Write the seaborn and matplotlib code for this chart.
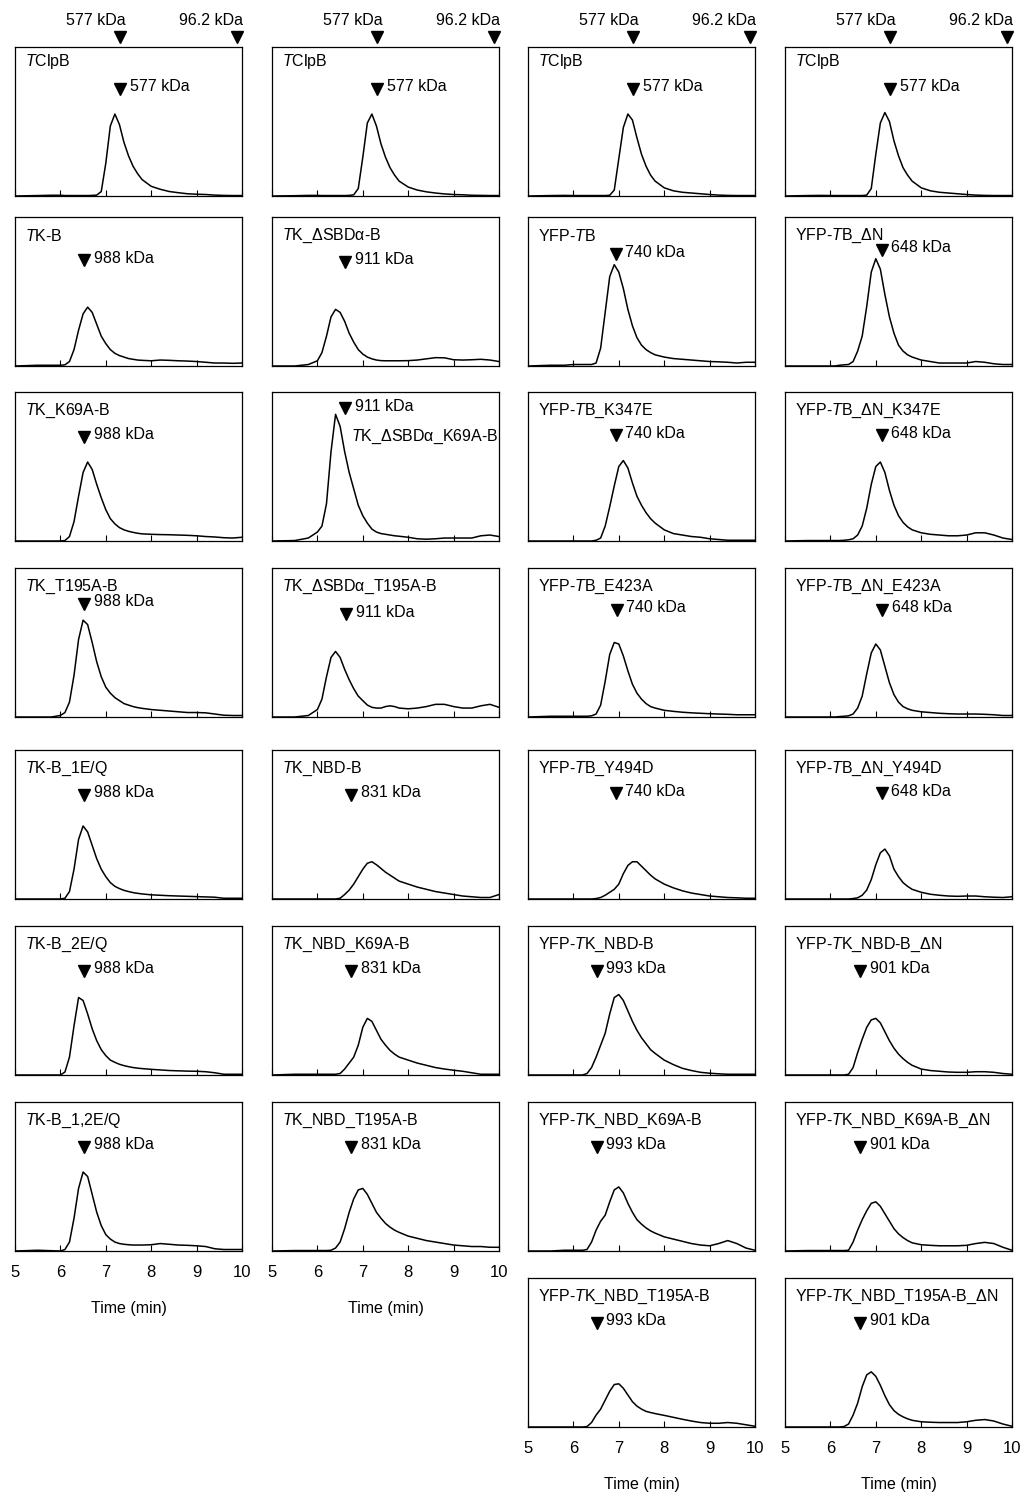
import numpy as np
import pandas as pd
import matplotlib.pyplot as plt
import seaborn as sns

# elution time grid (min), shared by all traces
time = [5.0, 5.5, 5.8, 6.0, 6.1, 6.2, 6.3, 6.4, 6.5, 6.6, 6.7, 6.8, 6.9, 7.0, 7.1, 7.2, 7.3,
        7.4, 7.5, 7.6, 7.7, 7.8, 8.0, 8.2, 8.4, 8.6, 8.8, 9.0, 9.2, 9.4, 9.6, 9.8, 10.0]

# absorbance traces, scaled to panel height
tclpb_1 = [0.0, 0.003, 0.005, 0.005, 0.003, 0.003, 0.003, 0.003, 0.003, 0.003, 0.004, 0.006, 0.03, 0.22, 0.47, 0.55, 0.48,
           0.36, 0.27, 0.2, 0.15, 0.11, 0.065, 0.045, 0.03, 0.022, 0.015, 0.012, 0.01, 0.006, 0.004, 0.003, 0.003]
tclpb_2 = [0.0, 0.002, 0.004, 0.004, 0.003, 0.003, 0.003, 0.003, 0.003, 0.003, 0.004, 0.008, 0.05, 0.26, 0.49, 0.55, 0.47,
           0.35, 0.26, 0.19, 0.14, 0.1, 0.06, 0.04, 0.028, 0.02, 0.014, 0.01, 0.008, 0.005, 0.004, 0.003, 0.003]
tclpb_3 = [0.0, 0.003, 0.004, 0.003, 0.003, 0.003, 0.003, 0.003, 0.003, 0.003, 0.003, 0.005, 0.04, 0.25, 0.46, 0.55, 0.51,
           0.39, 0.28, 0.2, 0.14, 0.1, 0.055, 0.035, 0.025, 0.02, 0.015, 0.01, 0.006, 0.004, 0.003, 0.003, 0.003]
tclpb_4 = [0.0, 0.003, 0.004, 0.003, 0.003, 0.003, 0.003, 0.003, 0.003, 0.003, 0.003, 0.006, 0.05, 0.28, 0.49, 0.56, 0.5,
           0.37, 0.27, 0.19, 0.14, 0.1, 0.055, 0.035, 0.025, 0.02, 0.015, 0.01, 0.006, 0.004, 0.003, 0.003, 0.003]

tk_b = [0.0, 0.005, 0.005, 0.005, 0.008, 0.03, 0.11, 0.24, 0.35, 0.395, 0.36, 0.28, 0.2, 0.15, 0.11, 0.085, 0.07,
        0.06, 0.05, 0.045, 0.04, 0.038, 0.035, 0.04, 0.038, 0.035, 0.033, 0.03, 0.025, 0.02, 0.02, 0.018, 0.02]
tk_k69a = [0.0, 0.0, 0.0, 0.0, 0.003, 0.03, 0.13, 0.3, 0.46, 0.53, 0.48, 0.38, 0.29, 0.21, 0.15, 0.115, 0.09,
           0.075, 0.065, 0.058, 0.052, 0.048, 0.045, 0.043, 0.042, 0.04, 0.038, 0.035, 0.03, 0.027, 0.022, 0.02, 0.025]
tk_t195a = [0.0, 0.0, 0.0, 0.01, 0.03, 0.1, 0.28, 0.52, 0.65, 0.62, 0.5, 0.37, 0.27, 0.2, 0.16, 0.13, 0.11,
            0.09, 0.08, 0.07, 0.063, 0.058, 0.05, 0.045, 0.04, 0.035, 0.03, 0.03, 0.028, 0.02, 0.012, 0.01, 0.01]
tk_b_1eq = [0.0, 0.0, 0.0, 0.0, 0.005, 0.05, 0.2, 0.4, 0.49, 0.45, 0.36, 0.27, 0.2, 0.15, 0.11, 0.085, 0.07,
            0.058, 0.05, 0.043, 0.038, 0.034, 0.028, 0.025, 0.022, 0.02, 0.018, 0.016, 0.014, 0.012, 0.005, 0.005, 0.005]
tk_b_2eq = [0.0, 0.0, 0.0, 0.0, 0.02, 0.12, 0.33, 0.52, 0.5, 0.41, 0.31, 0.23, 0.17, 0.13, 0.1, 0.085, 0.072,
            0.063, 0.056, 0.05, 0.046, 0.043, 0.038, 0.034, 0.03, 0.028, 0.026, 0.025, 0.022, 0.015, 0.005, 0.005, 0.005]
tk_b_12eq = [0.0, 0.005, 0.002, 0.0, 0.01, 0.06, 0.22, 0.42, 0.53, 0.5, 0.38, 0.26, 0.17, 0.11, 0.08, 0.06, 0.05,
             0.045, 0.042, 0.04, 0.04, 0.04, 0.042, 0.05, 0.045, 0.04, 0.038, 0.035, 0.03, 0.015, 0.01, 0.01, 0.01]

tk_dsbd = [0.0, 0.0, 0.01, 0.035, 0.09, 0.2, 0.33, 0.38, 0.36, 0.3, 0.22, 0.16, 0.11, 0.08, 0.06, 0.048, 0.04,
           0.036, 0.035, 0.035, 0.035, 0.035, 0.036, 0.04, 0.048, 0.056, 0.055, 0.042, 0.04, 0.042, 0.045, 0.04, 0.03]
tk_dsbd_k69a = [0.0, 0.003, 0.02, 0.06, 0.1, 0.25, 0.6, 0.85, 0.77, 0.6, 0.46, 0.35, 0.24, 0.17, 0.12, 0.08, 0.06,
                0.05, 0.045, 0.04, 0.035, 0.032, 0.025, 0.015, 0.012, 0.015, 0.02, 0.02, 0.02, 0.02, 0.035, 0.04, 0.03]
tk_dsbd_t195a = [0.0, 0.0, 0.01, 0.05, 0.12, 0.27, 0.4, 0.44, 0.4, 0.32, 0.25, 0.19, 0.14, 0.11, 0.08, 0.065, 0.06,
                 0.06, 0.07, 0.075, 0.07, 0.06, 0.055, 0.06, 0.07, 0.085, 0.085, 0.07, 0.06, 0.06, 0.075, 0.085, 0.065]
tk_nbd = [0.0, 0.0, 0.0, 0.0, 0.0, 0.0, 0.0, 0.0, 0.005, 0.03, 0.06, 0.1, 0.15, 0.2, 0.24, 0.25, 0.23,
          0.205, 0.18, 0.16, 0.14, 0.12, 0.1, 0.08, 0.065, 0.05, 0.04, 0.03, 0.02, 0.015, 0.01, 0.01, 0.03]
tk_nbd_k69a = [0.0, 0.005, 0.005, 0.005, 0.005, 0.005, 0.005, 0.005, 0.01, 0.04, 0.08, 0.12, 0.2, 0.32, 0.38, 0.36, 0.3,
               0.24, 0.2, 0.165, 0.14, 0.12, 0.1, 0.08, 0.065, 0.05, 0.04, 0.032, 0.025, 0.015, 0.005, 0.005, 0.005]
tk_nbd_t195a = [0.0, 0.003, 0.003, 0.003, 0.003, 0.003, 0.005, 0.02, 0.06, 0.15, 0.26, 0.35, 0.41, 0.42, 0.38, 0.32, 0.26,
                0.22, 0.185, 0.16, 0.14, 0.125, 0.1, 0.085, 0.07, 0.06, 0.05, 0.04, 0.035, 0.03, 0.03, 0.025, 0.025]

yfp_tb = [0.0, 0.005, 0.005, 0.01, 0.01, 0.01, 0.01, 0.01, 0.02, 0.12, 0.36, 0.6, 0.68, 0.63, 0.52, 0.38, 0.27,
          0.19, 0.14, 0.11, 0.09, 0.075, 0.06, 0.05, 0.045, 0.04, 0.035, 0.03, 0.028, 0.025, 0.02, 0.025, 0.025]
yfp_tb_k347e = [0.0, 0.0, 0.0, 0.0, 0.0, 0.0, 0.0, 0.0, 0.005, 0.02, 0.1, 0.23, 0.37, 0.5, 0.54, 0.49, 0.39,
                0.3, 0.24, 0.19, 0.15, 0.12, 0.075, 0.05, 0.04, 0.03, 0.025, 0.015, 0.01, 0.005, 0.005, 0.005, 0.005]
yfp_tb_e423a = [0.0, 0.005, 0.005, 0.005, 0.005, 0.005, 0.005, 0.008, 0.02, 0.08, 0.24, 0.42, 0.5, 0.49, 0.41, 0.31, 0.22,
                0.16, 0.12, 0.09, 0.07, 0.06, 0.045, 0.038, 0.032, 0.028, 0.025, 0.022, 0.02, 0.018, 0.015, 0.015, 0.015]
yfp_tb_y494d = [0.0, 0.0, 0.0, 0.0, 0.0, 0.0, 0.0, 0.0, 0.003, 0.01, 0.025, 0.045, 0.065, 0.1, 0.17, 0.225, 0.25,
                0.25, 0.22, 0.19, 0.16, 0.135, 0.1, 0.075, 0.055, 0.04, 0.03, 0.02, 0.015, 0.01, 0.008, 0.005, 0.005]
yfp_tk_nbd = [0.0, 0.0, 0.0, 0.0, 0.0, 0.0, 0.01, 0.05, 0.12, 0.2, 0.28, 0.41, 0.52, 0.54, 0.5, 0.43, 0.36,
              0.3, 0.25, 0.21, 0.17, 0.145, 0.1, 0.07, 0.045, 0.03, 0.018, 0.012, 0.008, 0.005, 0.005, 0.005, 0.005]
yfp_tk_nbd_k69a = [0.0, 0.0, 0.005, 0.005, 0.005, 0.005, 0.01, 0.06, 0.14, 0.2, 0.24, 0.33, 0.41, 0.43, 0.39, 0.32, 0.26,
                   0.21, 0.18, 0.155, 0.135, 0.12, 0.095, 0.08, 0.065, 0.05, 0.04, 0.035, 0.05, 0.07, 0.05, 0.02, 0.005]
yfp_tk_nbd_t195a = [0.0, 0.0, 0.0, 0.0, 0.0, 0.0, 0.003, 0.03, 0.08, 0.12, 0.18, 0.24, 0.285, 0.29, 0.26, 0.215, 0.17,
                    0.14, 0.12, 0.105, 0.097, 0.09, 0.078, 0.065, 0.052, 0.04, 0.03, 0.025, 0.025, 0.03, 0.025, 0.015, 0.005]

yfp_tb_dn = [0.0, 0.0, 0.0, 0.0, 0.0, 0.005, 0.008, 0.01, 0.03, 0.1, 0.2, 0.4, 0.63, 0.72, 0.65, 0.48, 0.33,
             0.22, 0.14, 0.1, 0.075, 0.06, 0.04, 0.03, 0.02, 0.02, 0.02, 0.02, 0.03, 0.025, 0.015, 0.01, 0.01]
yfp_tb_dn_k347e = [0.0, 0.003, 0.003, 0.003, 0.003, 0.003, 0.005, 0.008, 0.015, 0.04, 0.1, 0.22, 0.38, 0.5, 0.53, 0.46, 0.34,
                   0.24, 0.17, 0.125, 0.095, 0.075, 0.055, 0.045, 0.04, 0.035, 0.035, 0.04, 0.055, 0.055, 0.04, 0.02, 0.01]
yfp_tb_dn_e423a = [0.0, 0.0, 0.0, 0.0, 0.0, 0.003, 0.005, 0.008, 0.02, 0.06, 0.14, 0.29, 0.43, 0.49, 0.45, 0.34, 0.23,
                   0.15, 0.1, 0.07, 0.055, 0.045, 0.035, 0.03, 0.025, 0.022, 0.02, 0.02, 0.02, 0.018, 0.015, 0.01, 0.01]
yfp_tb_dn_y494d = [0.0, 0.0, 0.0, 0.0, 0.0, 0.0, 0.0, 0.0, 0.003, 0.008, 0.025, 0.06, 0.13, 0.23, 0.31, 0.335, 0.29,
                   0.2, 0.15, 0.11, 0.085, 0.065, 0.045, 0.032, 0.025, 0.02, 0.018, 0.02, 0.02, 0.015, 0.012, 0.01, 0.015]
yfp_tk_nbd_dn = [0.0, 0.0, 0.0, 0.0, 0.0, 0.0, 0.0, 0.005, 0.05, 0.15, 0.24, 0.32, 0.37, 0.38, 0.35, 0.29, 0.23,
                 0.18, 0.14, 0.11, 0.085, 0.065, 0.04, 0.03, 0.025, 0.02, 0.018, 0.018, 0.022, 0.022, 0.018, 0.01, 0.005]
yfp_tk_nbd_k69a_dn = [0.0, 0.003, 0.003, 0.003, 0.003, 0.003, 0.003, 0.005, 0.06, 0.14, 0.21, 0.27, 0.32, 0.33, 0.3, 0.25, 0.2,
                      0.15, 0.115, 0.09, 0.07, 0.055, 0.042, 0.038, 0.035, 0.035, 0.035, 0.038, 0.05, 0.058, 0.05, 0.025, 0.005]
yfp_tk_nbd_t195a_dn = [0.0, 0.0, 0.0, 0.0, 0.0, 0.0, 0.003, 0.02, 0.08, 0.16, 0.27, 0.35, 0.37, 0.34, 0.28, 0.21, 0.15,
                       0.11, 0.085, 0.068, 0.055, 0.045, 0.035, 0.032, 0.03, 0.03, 0.03, 0.035, 0.045, 0.05, 0.04, 0.02, 0.005]

T = r"$\mathit{T}$"
col1_names = [T + "ClpB", T + "K-B", T + "K_K69A-B", T + "K_T195A-B", T + "K-B_1E/Q", T + "K-B_2E/Q", T + "K-B_1,2E/Q"]
col2_names = [T + "ClpB", T + "K_ΔSBDα-B", T + "K_ΔSBDα_K69A-B", T + "K_ΔSBDα_T195A-B",
              T + "K_NBD-B", T + "K_NBD_K69A-B", T + "K_NBD_T195A-B"]
col3_names = [T + "ClpB", "YFP-" + T + "B", "YFP-" + T + "B_K347E", "YFP-" + T + "B_E423A", "YFP-" + T + "B_Y494D",
              "YFP-" + T + "K_NBD-B", "YFP-" + T + "K_NBD_K69A-B", "YFP-" + T + "K_NBD_T195A-B"]
col4_names = [T + "ClpB", "YFP-" + T + "B_ΔN", "YFP-" + T + "B_ΔN_K347E", "YFP-" + T + "B_ΔN_E423A",
              "YFP-" + T + "B_ΔN_Y494D", "YFP-" + T + "K_NBD-B_ΔN", "YFP-" + T + "K_NBD_K69A-B_ΔN",
              "YFP-" + T + "K_NBD_T195A-B_ΔN"]

col1_traces = [tclpb_1, tk_b, tk_k69a, tk_t195a, tk_b_1eq, tk_b_2eq, tk_b_12eq]
col2_traces = [tclpb_2, tk_dsbd, tk_dsbd_k69a, tk_dsbd_t195a, tk_nbd, tk_nbd_k69a, tk_nbd_t195a]
col3_traces = [tclpb_3, yfp_tb, yfp_tb_k347e, yfp_tb_e423a, yfp_tb_y494d, yfp_tk_nbd, yfp_tk_nbd_k69a, yfp_tk_nbd_t195a]
col4_traces = [tclpb_4, yfp_tb_dn, yfp_tb_dn_k347e, yfp_tb_dn_e423a, yfp_tb_dn_y494d, yfp_tk_nbd_dn,
               yfp_tk_nbd_k69a_dn, yfp_tk_nbd_t195a_dn]

# expected elution time (min) and mass for each construct
col1_mark_t = [7.31, 6.52, 6.52, 6.52, 6.52, 6.52, 6.52]
col1_mass = ["577 kDa"] + ["988 kDa"] * 6
col2_mark_t = [7.31, 6.61, 6.61, 6.63, 6.74, 6.74, 6.74]
col2_mass = ["577 kDa"] + ["911 kDa"] * 3 + ["831 kDa"] * 3
col3_mark_t = [7.31, 6.93, 6.93, 6.95, 6.93, 6.51, 6.51, 6.51]
col3_mass = ["577 kDa"] + ["740 kDa"] * 4 + ["993 kDa"] * 3
col4_mark_t = [7.31, 7.13, 7.13, 7.14, 7.13, 6.65, 6.65, 6.65]
col4_mass = ["577 kDa"] + ["648 kDa"] * 4 + ["901 kDa"] * 3

# standards shown above the top row
std_t = [7.31, 9.89]
std_mass = ["577 kDa", "96.2 kDa"]
time_ticks = [5, 6, 7, 8, 9, 10]

sns.set_theme(style="white")
plt.rcParams['font.family'] = ['Liberation Sans', 'DejaVu Sans']
plt.rcParams['mathtext.fontset'] = 'custom'
plt.rcParams['mathtext.it'] = 'Liberation Sans:italic'
plt.rcParams['mathtext.rm'] = 'Liberation Sans'
plt.rcParams['text.color'] = 'black'
plt.rcParams['xtick.color'] = 'black'
plt.rcParams['axes.labelcolor'] = 'black'

FS = 11.5
W, H = 1031, 1493
fig = plt.figure(figsize=(W / 100, H / 100), dpi=100)

col_left = [15, 272, 528, 785]
row_top = [47, 217, 392, 568, 750, 926, 1102, 1278]
pw, ph = 227, 149

# per-panel marker heights (axes fraction)
mark_y = [
    [0.72, 0.71, 0.70, 0.76, 0.70, 0.70, 0.70],
    [0.72, 0.70, 0.89, 0.69, 0.70, 0.70, 0.70],
    [0.72, 0.75, 0.71, 0.72, 0.71, 0.70, 0.70, 0.70],
    [0.72, 0.78, 0.71, 0.72, 0.71, 0.70, 0.70, 0.70],
]

columns = [
    (col1_names, col1_traces, col1_mark_t, col1_mass),
    (col2_names, col2_traces, col2_mark_t, col2_mass),
    (col3_names, col3_traces, col3_mark_t, col3_mass),
    (col4_names, col4_traces, col4_mark_t, col4_mass),
]

for c, (names, traces, mts, masses) in enumerate(columns):
    n = len(names)
    for r in range(n):
        top = row_top[r]
        ax = fig.add_axes([col_left[c] / W, 1 - (top + ph) / H, pw / W, ph / H])
        df = pd.DataFrame({'time': time, 'signal': traces[r]})
        sns.lineplot(data=df, x='time', y='signal', ax=ax, color='black', linewidth=1.1, estimator=None)
        for ln in ax.lines:
            ln.set_solid_joinstyle('round')
        ax.set_xlim(5, 10)
        ax.set_ylim(0, 1)
        ax.set_xlabel('')
        ax.set_ylabel('')
        ax.set_yticks([])
        ax.set_xticks(time_ticks)
        last = (r == n - 1)
        ax.tick_params(axis='x', direction='in', length=4, width=0.8, color='black', labelcolor='black',
                       pad=10, labelsize=12, labelbottom=last, bottom=True)
        for s in ax.spines.values():
            s.set_color('black')
            s.set_linewidth(0.9)

        # sample name
        if c == 1 and r == 2:
            ax.text(0.995, 0.70, names[r], transform=ax.transAxes, ha='right', va='center', fontsize=FS)
        else:
            ly = 0.9 if r == 0 else 0.875
            ax.text(0.045, ly, names[r], transform=ax.transAxes, ha='left', va='center', fontsize=FS)

        # expected mass marker
        my = mark_y[c][r]
        ax.plot([mts[r]], [my], marker='v', ms=8.5, color='black', linestyle='none')
        ax.annotate(masses[r], (mts[r], my), xytext=(7, 1.5), textcoords='offset points',
                    ha='left', va='center', fontsize=FS)

        if r == 0:
            ax.plot(std_t, [1.068, 1.068], marker='v', ms=8.5, color='black', linestyle='none', clip_on=False)
            ax.text(std_t[0] + 0.12, 1.18, std_mass[0], ha='right', va='center', fontsize=FS)
            ax.text(10.03, 1.18, std_mass[1], ha='right', va='center', fontsize=FS)
        if last:
            ax.set_xlabel('Time (min)', fontsize=FS, labelpad=15)

fig.savefig('out.png', dpi=100)
